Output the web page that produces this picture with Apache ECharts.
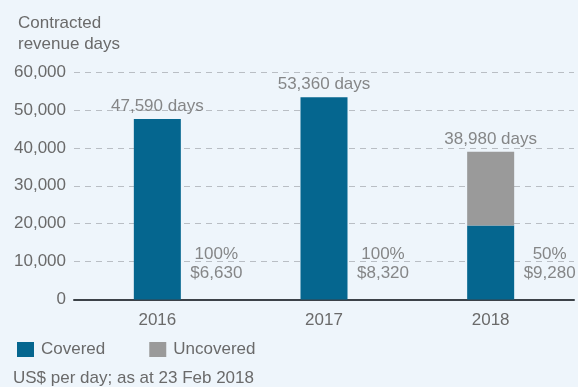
<!DOCTYPE html>
<html><head><meta charset="utf-8">
<script src="https://cdn.jsdelivr.net/npm/echarts@6/dist/echarts.min.js"></script>
<style>html,body{margin:0;padding:0;background:#eef5fb;}#c{width:578px;height:387px;}</style>
</head><body><div id="c"></div>
<script>
var categories = ["2016", "2017", "2018"];
var covered = [47590, 53360, 19490];
var uncovered = [0, 0, 19490];
var totals = [47590, 53360, 38980];
var coveragePct = ["100%", "100%", "50%"];
var dayRates = ["$6,630", "$8,320", "$9,280"];
var yTicks = [0, 10000, 20000, 30000, 40000, 50000, 60000];

var FONT = "Liberation Sans, Arial, sans-serif";
var TXT = "#6a6a6a";
var chart = echarts.init(document.getElementById('c'), null, {renderer: 'canvas'});
chart.setOption({
  backgroundColor: '#eef5fb',
  animation: false,
  textStyle: {fontFamily: FONT},
  title: {
    text: "Contracted\nrevenue days",
    left: 13, top: 8,
    textStyle: {fontFamily: FONT, fontSize: 17, fontWeight: 'normal', color: TXT, lineHeight: 21}
  },
  legend: {
    left: 12, top: 336,
    itemWidth: 17, itemHeight: 15, itemGap: 44,
    icon: 'rect',
    textStyle: {fontFamily: FONT, fontSize: 17, color: TXT, padding: [0,0,0,2]},
    data: ["Covered", "Uncovered"]
  },
  graphic: [{
    type: 'text', left: 13, top: 370,
    style: {text: "US$ per day; as at 23 Feb 2018", font: '17px ' + FONT, fill: TXT}
  }],
  grid: {left: 74, right: 4, top: 72, bottom: 87.5},
  xAxis: {
    type: 'category', data: categories,
    axisLine: {lineStyle: {color: '#3c4248', width: 2}},
    axisTick: {show: false},
    axisLabel: {fontFamily: FONT, fontSize: 17, color: TXT, margin: 12}
  },
  yAxis: {
    type: 'value', min: yTicks[0], max: yTicks[yTicks.length - 1], interval: 10000,
    axisLine: {show: false}, axisTick: {show: false},
    axisLabel: {fontFamily: FONT, fontSize: 17, color: TXT, margin: 8,
      formatter: function (v) { return v.toLocaleString('en-US'); }},
    splitLine: {lineStyle: {color: '#b9bec4', type: [6, 5], width: 1}}
  },
  series: [
    {name: "Covered", type: 'bar', stack: 's', data: covered, barWidth: 47,
      itemStyle: {color: '#05668f'}},
    {name: "Uncovered", type: 'bar', stack: 's', data: uncovered, barWidth: 47,
      itemStyle: {color: '#9a9a9a'}},
    {name: "totals", type: 'scatter', symbolSize: 0, silent: true,
      data: totals.map(function (v, i) { return [categories[i], v]; }),
      label: {show: true, position: 'top', distance: 4, fontFamily: FONT, fontSize: 17, color: TXT,
        formatter: function (p) { return p.value[1].toLocaleString('en-US') + " days"; }}},
    {name: "rates", type: 'scatter', symbolSize: 0, silent: true,
      data: categories.map(function (c) { return [c, 9300]; }),
      label: {show: true, position: 'inside', offset: [59, 0], fontFamily: FONT, fontSize: 17, color: TXT,
        lineHeight: 19, align: 'center',
        formatter: function (p) { return coveragePct[p.dataIndex] + "\n" + dayRates[p.dataIndex]; }}}
  ]
});
</script></body></html>
